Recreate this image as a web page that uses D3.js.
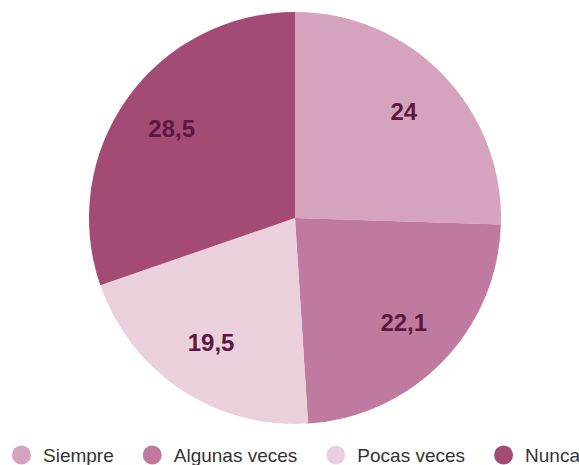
<!DOCTYPE html>
<html>
<head>
<meta charset="utf-8">
<script src="https://cdn.jsdelivr.net/npm/d3@7"></script>
<style>
  body { margin: 0; background: #fff; }
  svg { display: block; font-family: "Liberation Sans", Arial, sans-serif; }
</style>
</head>
<body>
<div id="chart"></div>
<script>
var categories = ["Siempre", "Algunas veces", "Pocas veces", "Nunca"];
var values = [24, 22.1, 19.5, 28.5];
var labels = ["24", "22,1", "19,5", "28,5"];
var colors = ["#d6a3bf", "#c07a9f", "#ead0dc", "#a34b75"];

var width = 579, height = 465;
var cx = 295, cy = 218, radius = 206;

var svg = d3.select("#chart")
  .append("svg")
    .attr("width", width)
    .attr("height", height);

var data = categories.map(function (c, i) {
  return {name: c, value: values[i], label: labels[i], color: colors[i]};
});

var pie = d3.pie()
  .sort(null)
  .value(function (d) { return d.value; });

var arc = d3.arc()
  .innerRadius(0)
  .outerRadius(radius);

var labelArc = d3.arc()
  .innerRadius(radius * 0.735)
  .outerRadius(radius * 0.735);

var g = svg.append("g")
  .attr("transform", "translate(" + cx + "," + cy + ")");

g.selectAll("path")
  .data(pie(data))
  .enter()
  .append("path")
    .attr("d", arc)
    .style("fill", function (d) { return d.data.color; });

g.selectAll("text")
  .data(pie(data))
  .enter()
  .append("text")
    .attr("transform", function (d) { return "translate(" + labelArc.centroid(d) + ")"; })
    .attr("text-anchor", "middle")
    .attr("dy", "0.3em")
    .style("font-size", "24px")
    .style("font-weight", "bold")
    .style("fill", "#5c1840")
    .text(function (d) { return d.data.label; });

// legend
var legend = svg.append("g").attr("class", "legend");
var x = 21.5, legendY = 455;
data.forEach(function (d) {
  legend.append("circle")
    .attr("cx", x)
    .attr("cy", legendY)
    .attr("r", 9.5)
    .style("fill", d.color);
  var t = legend.append("text")
    .attr("x", x + 21.5)
    .attr("y", legendY)
    .attr("dy", "0.36em")
    .style("font-size", "19px")
    .style("fill", "#333")
    .text(d.name);
  x += 21.5 + t.node().getComputedTextLength() + 38.5;
});
</script>
</body>
</html>
